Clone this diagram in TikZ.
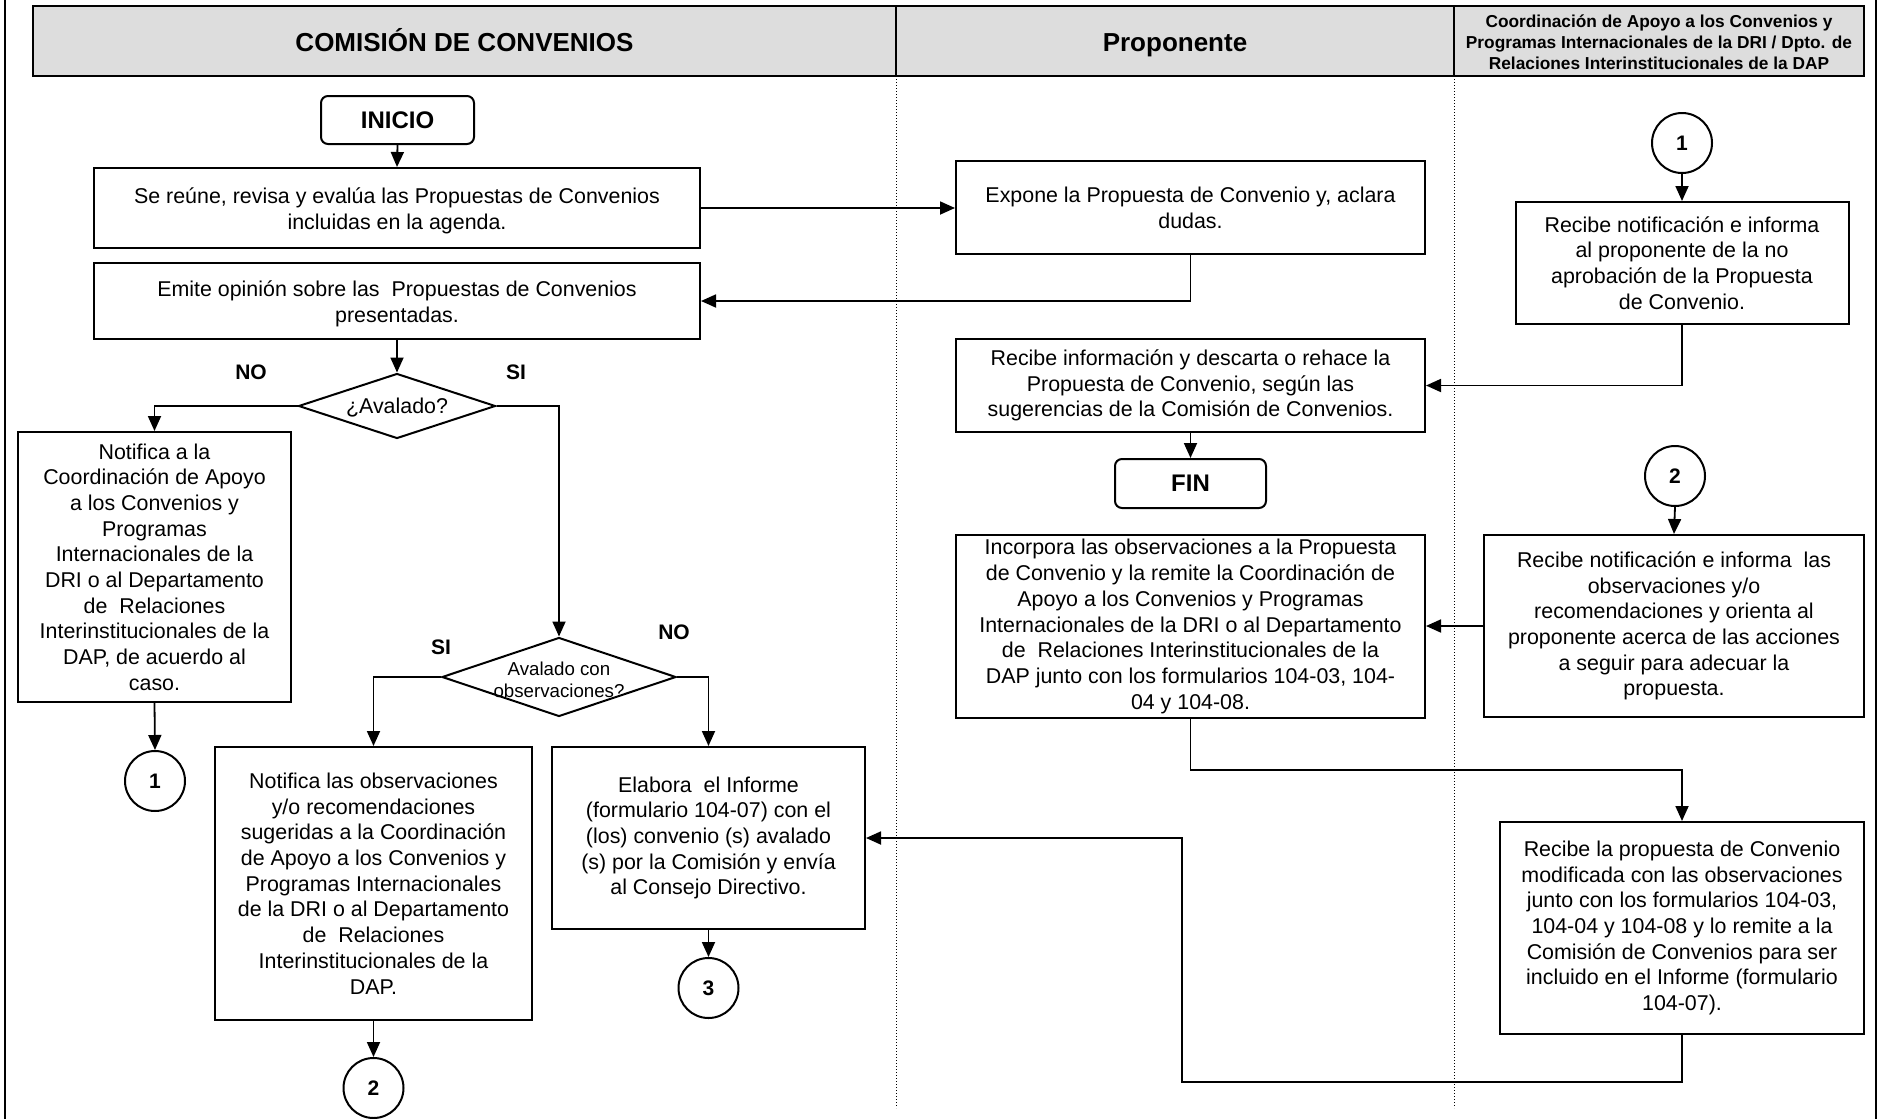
\documentclass[tikz,border=0pt]{standalone}
\usepackage{fontspec}
\setmainfont{Liberation Sans}
\usetikzlibrary{arrows.meta,shapes.geometric}
\definecolor{headgray}{HTML}{DDDDDD}
\newcommand\txtbody{\fontsize{21.4pt}{25.7pt}\selectfont}
\newcommand\txtsmall{\fontsize{18.7pt}{22.5pt}\selectfont}
\newcommand\txthead{\bfseries\fontsize{26pt}{30pt}\selectfont}
\newcommand\txtheadsm{\bfseries\fontsize{17.3pt}{21pt}\selectfont}
\newcommand\txtterm{\bfseries\fontsize{24pt}{28pt}\selectfont}
\newcommand\txtlbl{\bfseries\fontsize{21pt}{25pt}\selectfont}
% strut that lowers the first line of two-line boxes a little
\newcommand\topstrut{\rule{0pt}{21pt}}

\begin{document}
\begin{tikzpicture}[x=1pt,y=-1pt,
  proc/.style={draw, line width=2pt, inner sep=0pt, align=center, font=\txtbody},
  term/.style={draw, line width=2pt, rounded corners=7pt, inner sep=0pt, font=\txtterm},
  conn/.style={draw, circle, line width=2pt, minimum size=60pt, inner sep=0pt, font=\txtlbl},
  decide/.style={draw, diamond, line width=2pt, inner sep=0pt},
  arr/.style={-{Triangle[length=15pt,width=13pt]}, line width=1.8pt},
  lane/.style={dotted, line width=1pt},
  lbl/.style={font=\txtlbl, inner sep=0pt}]

\useasboundingbox (0,0) rectangle (1877,1119);

% page frame and swimlane header
\draw[line width=2.5pt] (5,0) -- (5,1119);
\draw[line width=1.5pt] (1876,0) -- (1876,1119);
\draw[fill=headgray, line width=2pt] (33,6) rectangle (1864,76);
\draw[line width=2pt] (896,6) -- (896,76) (1454,6) -- (1454,76);
\draw[lane] (896,76) -- (896,1108);
\draw[lane] (1454,76) -- (1454,1108);

\node[font=\txthead, anchor=base] (h1) at (464.5,51) {COMISIÓN DE CONVENIOS};
\node[font=\txthead, anchor=base] (h2) at (1175,51) {Proponente};
\node[font=\txtheadsm, align=center] (h3) at (1659,42)
  {Coordinación de Apoyo a los Convenios y\\Programas Internacionales de la DRI / Dpto. de\\Relaciones Interinstitucionales de la DAP};

% Comisión de Convenios lane
\node[term, minimum width=153pt, minimum height=48pt] (inicio) at (397.5,120) {INICIO};
\node[proc, minimum width=606pt, minimum height=80pt] (A) at (397,208)
  {\topstrut Se reúne, revisa y evalúa las Propuestas de Convenios\\incluidas en la agenda.};
\node[proc, minimum width=606pt, minimum height=76pt] (B) at (397,301)
  {\topstrut Emite opinión sobre las~ Propuestas de Convenios\\presentadas.};
\node[decide, minimum width=197pt, minimum height=65pt] (d1) at (397,406) {};
\node[font=\txtbody, inner sep=0pt] (d1t) at (397,408) {¿Avalado?};
\node[lbl] (no1) at (251,372) {NO};
\node[lbl] (si1) at (516,372) {SI};
\node[proc, minimum width=273pt, minimum height=270pt] (C) at (154.5,567)
  {Notifica a la\\Coordinación de Apoyo\\a los Convenios y\\Programas\\Internacionales de la\\DRI o al Departamento\\de~ Relaciones\\Interinstitucionales de la\\DAP, de acuerdo al\\caso.};
\node[conn] (c1) at (155,781) {1};
\node[decide, minimum width=234pt, minimum height=79pt] (d2) at (559,677) {};
\node[font=\txtsmall, align=center, inner sep=0pt] (d2t) at (559,680) {Avalado con\\observaciones?};
\node[lbl] (si2) at (441,647) {SI};
\node[lbl] (no2) at (674,632) {NO};
\node[proc, minimum width=317pt, minimum height=273pt] (D) at (373.5,883.5)
  {Notifica las observaciones\\y/o recomendaciones\\sugeridas a la Coordinación\\de Apoyo a los Convenios y\\Programas Internacionales\\de la DRI o al Departamento\\de~ Relaciones\\Interinstitucionales de la\\DAP.};
\node[conn] (c2) at (373.5,1088) {2};
\node[proc, minimum width=313pt, minimum height=182pt] (E) at (708.5,838)
  {Elabora~ el Informe\\(formulario 104-07) con el\\(los) convenio (s) avalado\\(s) por la Comisión y envía\\al Consejo Directivo.};
\node[conn] (c3) at (708.5,988) {3};

% Proponente lane
\node[proc, minimum width=469pt, minimum height=93pt] (P) at (1190.5,207.5)
  {Expone la Propuesta de Convenio y, aclara\\dudas.};
\node[proc, minimum width=469pt, minimum height=93pt] (G) at (1190.5,385.5)
  {Recibe información y descarta o rehace la\\Propuesta de Convenio, según las\\sugerencias de la Comisión de Convenios.};
\node[term, minimum width=151pt, minimum height=49pt] (fin) at (1190.5,483.5) {FIN};
\node[proc, minimum width=469pt, minimum height=183pt] (I) at (1190.5,626.5)
  {Incorpora las observaciones a la Propuesta\\de Convenio y la remite la Coordinación de\\Apoyo a los Convenios y Programas\\Internacionales de la DRI o al Departamento\\de~ Relaciones Interinstitucionales de la\\DAP junto con los formularios 104-03, 104-\\04 y 104-08.};

% Coordinación / DAP lane
\node[conn] (r1) at (1682,143) {1};
\node[proc, minimum width=333pt, minimum height=122pt] (F) at (1682,263)
  {Recibe notificación e informa\\al proponente de la no\\aprobación de la Propuesta\\de Convenio.};
\node[conn] (r2) at (1675,476) {2};
\node[proc, minimum width=380pt, minimum height=182pt] (H) at (1674,626)
  {Recibe notificación e informa~ las\\observaciones y/o\\recomendaciones y orienta al\\proponente acerca de las acciones\\a seguir para adecuar la\\propuesta.};
\node[proc, minimum width=364pt, minimum height=212pt] (J) at (1682,928)
  {Recibe la propuesta de Convenio\\modificada con las observaciones\\junto con los formularios 104-03,\\104-04 y 104-08 y lo remite a la\\Comisión de Convenios para ser\\incluido en el Informe (formulario\\104-07).};

% bends of the long return paths
\coordinate (k1) at (1190.5,770);
\coordinate (k2) at (1682,1082);
\coordinate (k3) at (1182,1082);

% connectors
\draw[arr] (inicio.south) -- (A.north);
\draw[arr] (A.east) -- (A.east -| P.west);
\draw[arr] (P.south) |- (B.east);
\draw[arr] (B.south) -- (d1.north);
\draw[arr] (d1.west) -| (C.north);
\draw[arr] (d1.east) -| (d2.north);
\draw[arr] (C.south) -- (c1.north);
\draw[arr] (d2.west) -| (D.north);
\draw[arr] (d2.east) -| (E.north);
\draw[arr] (D.south) -- (c2.north);
\draw[arr] (E.south) -- (c3.north);
\draw[arr] (r1.south) -- (F.north);
\draw[arr] (F.south) |- (G.east);
\draw[arr] (G.south) -- (fin.north);
\draw[arr] (r2.south) -- (H.north);
\draw[arr] (H.west) -- (H.west -| I.east);
\draw[arr] (I.south) -- (k1) -| (J.north);
\draw[arr] (J.south) -- (k2) -- (k3) |- (E.east);
\end{tikzpicture}
\end{document}
